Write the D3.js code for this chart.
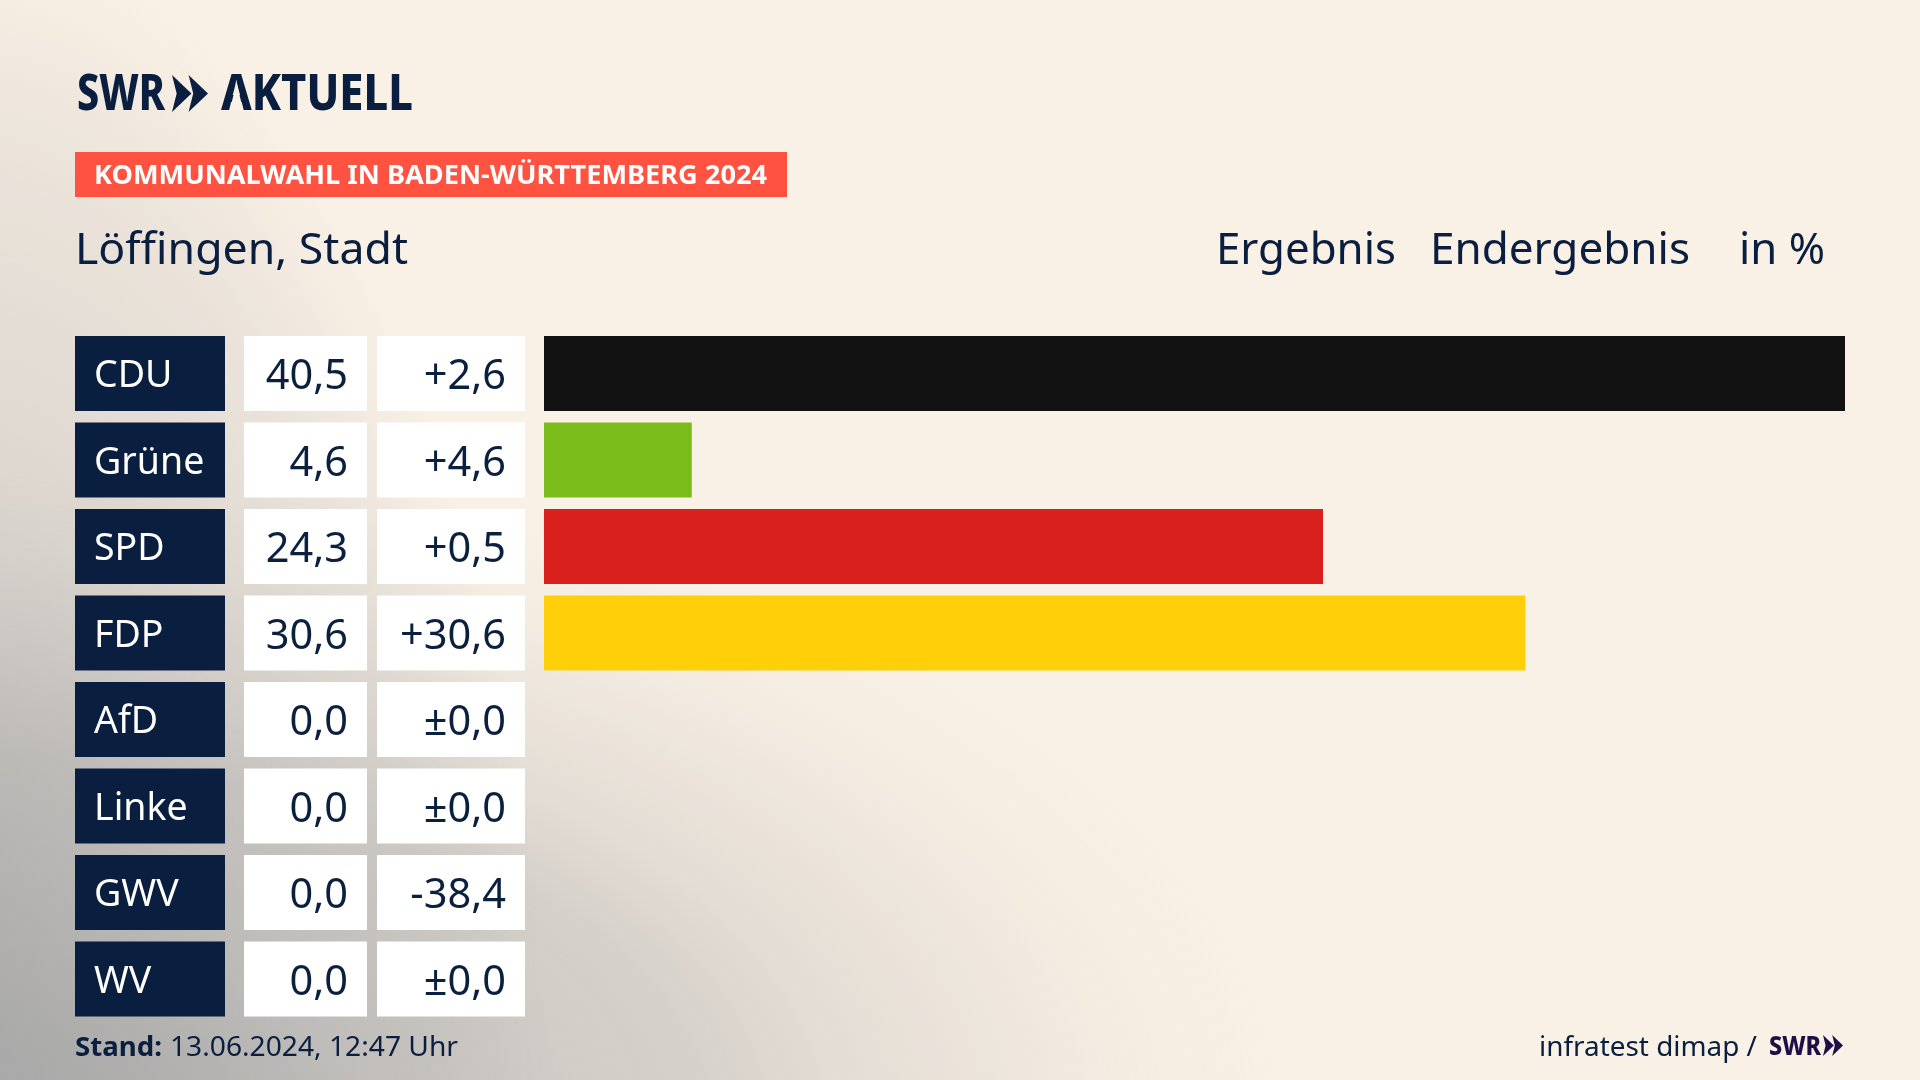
<!DOCTYPE html>
<html lang="de">
<head>
<meta charset="utf-8">
<title>Kommunalwahl Löffingen</title>
<script src="https://cdn.jsdelivr.net/npm/d3@7"></script>
<style>
  html, body { margin: 0; padding: 0; background: #faf1e6; overflow: hidden; }
  svg { display: block; }
  text { font-family: "Noto Sans", sans-serif; fill: #0b1f3f; }
</style>
</head>
<body>
<svg id="chart" width="1920" height="1080" viewBox="0 0 1920 1080"></svg>
<script>
// ─── DATA ─────────────────────────────────────
const parties = ["CDU", "Grüne", "SPD", "FDP", "AfD", "Linke", "GWV", "WV"];
// bar lengths (labels below are the rounded figures)
const shares  = [40.5, 4.6, 24.25, 30.55, 0, 0, 0, 0];
const results = ["40,5", "4,6", "24,3", "30,6", "0,0", "0,0", "0,0", "0,0"];
const diffs   = ["+2,6", "+4,6", "+0,5", "+30,6", "±0,0", "±0,0", "-38,4", "±0,0"];
const colors  = ["#121212", "#7abd1a", "#d9201c", "#ffcf0a", "#0a84c6", "#c0107a", "#888888", "#888888"];

const NAVY = "#0a1f3f";
const svg = d3.select("#chart");
const defs = svg.append("defs");

// ─── BACKGROUND ───────────────────────────────
function addGlow(id, cx, cy, rx, ry, stops) {
  const g = defs.append("radialGradient")
    .attr("id", id).attr("gradientUnits", "userSpaceOnUse")
    .attr("cx", 0).attr("cy", 0).attr("r", 1)
    .attr("gradientTransform", `translate(${cx},${cy}) scale(${rx},${ry})`);
  stops.forEach(s => g.append("stop")
    .attr("offset", s[0]).attr("stop-color", "#a8a8a8").attr("stop-opacity", s[1]));
  svg.append("rect").attr("width", 1920).attr("height", 1080)
    .attr("fill", `url(#${id})`)
    .style("mix-blend-mode", "darken");
}
svg.append("rect").attr("width", 1920).attr("height", 1080).attr("fill", "#faf1e6");
// wide glow along the bottom edge
addGlow("glow-bottom", -50, 1130, 1400, 700, [
  [0, 1], [0.29, 0.6], [0.54, 0.44], [0.64, 0.27], [0.82, 0.08], [0.96, 0]
]);
// tall glow up the left edge
addGlow("glow-left", -50, 1130, 600, 1200, [
  [0, 1], [0.275, 0.6], [0.525, 0.36], [0.817, 0.18], [0.95, 0.05], [1, 0]
]);

// ─── SCALES ───────────────────────────────────
const y = d3.scaleBand().domain(parties).range([336, 1016.5]).paddingInner(0.133);
const x = d3.scaleLinear().domain([0, d3.max(shares)]).range([544, 1845]);

// fit a label to the width it has in the picture
function label(str, x0, x1, base, size, weight, fill) {
  return svg.append("text")
    .attr("x", x0).attr("y", base)
    .attr("textLength", x1 - x0).attr("lengthAdjust", "spacingAndGlyphs")
    .attr("font-size", size).attr("font-weight", weight || 400)
    .style("fill", fill || NAVY)
    .text(str);
}

function chevrons(x0, y0, w, h, fill) {
  const cw = w * 0.54, notch = w * 0.13;
  [0, w - cw].forEach(dx => {
    const p = d3.path();
    p.moveTo(x0 + dx, y0);
    p.lineTo(x0 + dx + cw, y0 + h / 2);
    p.lineTo(x0 + dx, y0 + h);
    p.lineTo(x0 + dx + notch, y0 + h / 2);
    p.closePath();
    svg.append("path").attr("d", p).attr("fill", fill);
  });
}

// ─── HEADER ───────────────────────────────────
label("SWR", 77, 165, 110, 49, 800);
chevrons(172, 75, 36, 37, NAVY);
label("AKTUELL", 221, 413, 110, 49, 800);
// logo A has no crossbar
svg.append("path")
  .attr("d", d3.line()([[236.5, 83], [229.5, 111], [243.5, 111]]) + "Z")
  .attr("fill", "#faf1e6");

svg.append("rect").attr("x", 75).attr("y", 152).attr("width", 712).attr("height", 45).attr("fill", "#ff5240");
label("KOMMUNALWAHL IN BADEN-WÜRTTEMBERG 2024", 94, 767, 184, 27, 700, "#ffffff");

label("Löffingen, Stadt", 75, 408, 264, 44);
label("Ergebnis", 1216, 1396, 264, 44);
label("Endergebnis", 1430, 1690, 264, 44);
label("in %", 1739, 1825, 264, 44);

// ─── ROWS ─────────────────────────────────────
const rows = svg.append("g").selectAll("g")
  .data(parties)
  .join("g")
    .attr("transform", d => `translate(0,${y(d)})`);

rows.append("rect").attr("x", 75).attr("width", 150)
  .attr("height", y.bandwidth()).attr("fill", NAVY);
rows.append("text").attr("x", 94).attr("y", 51)
  .attr("font-size", 37.5).style("fill", "#ffffff")
  .text(d => d);

rows.append("rect").attr("x", 244).attr("width", 123)
  .attr("height", y.bandwidth()).attr("fill", "#ffffff");
rows.append("text").attr("x", 348).attr("y", 53)
  .attr("text-anchor", "end").attr("font-size", 41.5)
  .text((d, i) => results[i]);

rows.append("rect").attr("x", 377).attr("width", 148)
  .attr("height", y.bandwidth()).attr("fill", "#ffffff");
rows.append("text").attr("x", 506).attr("y", 53)
  .attr("text-anchor", "end").attr("font-size", 41.5)
  .text((d, i) => diffs[i]);

rows.append("rect").attr("x", x(0))
  .attr("width", (d, i) => x(shares[i]) - x(0))
  .attr("height", y.bandwidth())
  .attr("fill", (d, i) => colors[i]);

// ─── FOOTER ───────────────────────────────────
label("Stand:", 75, 162, 1056, 27, 700);
label("13.06.2024, 12:47 Uhr", 170, 458, 1056, 27);
label("infratest dimap /", 1539, 1757, 1056, 28);
label("SWR", 1769, 1821, 1055, 27, 800, "#1e0f46");
chevrons(1823, 1035, 20, 21, "#1e0f46");
</script>
</body>
</html>
